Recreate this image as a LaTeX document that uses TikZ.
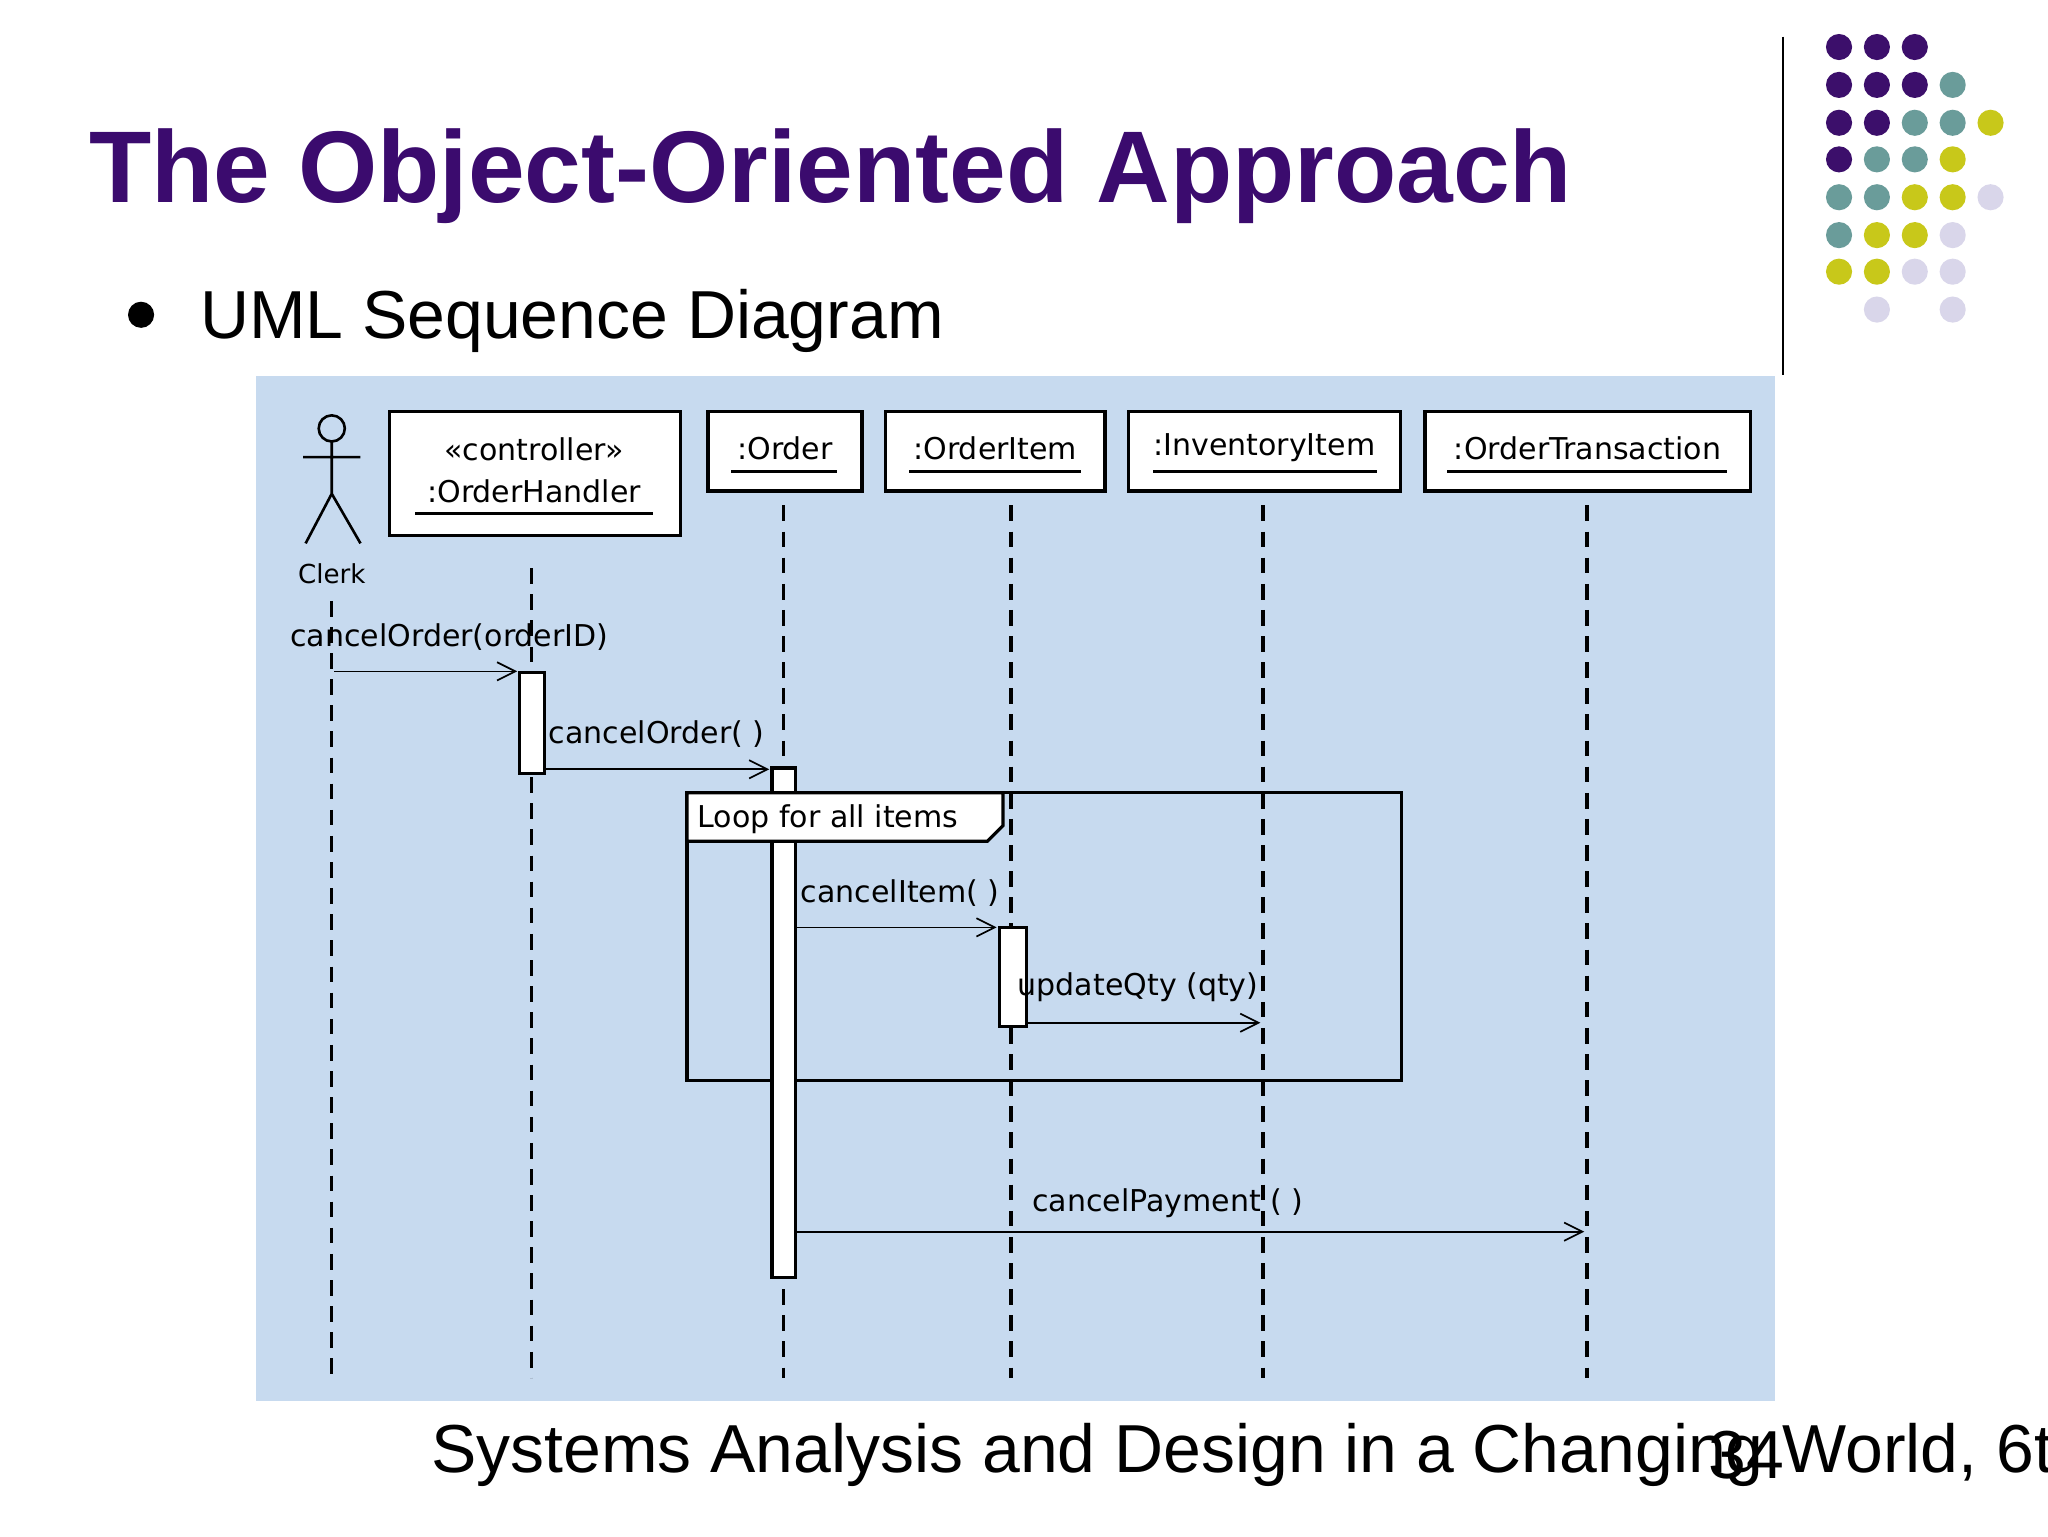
\documentclass[tikz,border=0pt]{standalone}
\usepackage{fontspec}
\setmainfont{Liberation Sans}
\newfontfamily\dia{DejaVu Sans}
\usetikzlibrary{arrows.meta}
\definecolor{ttl}{HTML}{3B0B6E}
\definecolor{bgb}{HTML}{C7DAEF}
\definecolor{dP}{HTML}{3C0F6B}
\definecolor{dT}{HTML}{6A9C9A}
\definecolor{dY}{HTML}{C8C81A}
\definecolor{dL}{HTML}{D9D6EA}
\tikzset{
 obj/.style={draw,line width=2.5pt,fill=white},
 life/.style={line width=2.5pt,dash pattern=on 12pt off 8pt},
 act/.style={draw,line width=2.5pt,fill=white},
 msg/.style={line width=1.3pt,-{Straight Barb[length=14pt,width=14pt,line width=1.3pt]}},
 lbl/.style={font=\dia\fontsize{23}{26}\selectfont,inner sep=0pt},
 dot/.style={circle,inner sep=0pt,minimum size=20pt}
}
\begin{document}
\begin{tikzpicture}[x=1pt,y=-1pt]
\useasboundingbox (0,0) rectangle (1568,1176);
\fill[white] (0,0) rectangle (1568,1176);
% title
\node[anchor=west,text=ttl,font=\bfseries\fontsize{78}{86}\selectfont,inner sep=0pt] (title) at (68,135) {The Object-Oriented Approach};
\node[circle,fill=black,inner sep=0pt,minimum size=20pt] (bul) at (108,241) {};
\node[anchor=west,font=\fontsize{52}{58}\selectfont,inner sep=0pt] (sub) at (153,246) {UML Sequence Diagram};
\draw[line width=1.5pt] (1365,28) -- (1365,287);
% dots
\foreach \x/\y/\c in {1408/36/dP,1437/36/dP,1466/36/dP,
 1408/65/dP,1437/65/dP,1466/65/dP,1495/65/dT,
 1408/94/dP,1437/94/dP,1466/94/dT,1495/94/dT,1524/94/dY,
 1408/122/dP,1437/122/dT,1466/122/dT,1495/122/dY,
 1408/151/dT,1437/151/dT,1466/151/dY,1495/151/dY,1524/151/dL,
 1408/180/dT,1437/180/dY,1466/180/dY,1495/180/dL,
 1408/208/dY,1437/208/dY,1466/208/dL,1495/208/dL,
 1437/237/dL,1495/237/dL}
 \node[dot,fill=\c] at (\x,\y) {};
% diagram background
\fill[bgb] (196,288) rectangle (1359,1073);
% actor
\draw[line width=2pt] (254,328) circle (10);
\draw[line width=2pt] (254,338) -- (254,378) (232,350) -- (276,350) (234,416) -- (254,378) -- (276,416);
\node[lbl,font=\dia\fontsize{20}{22}\selectfont] (clerk) at (254,439) {Clerk};
% objects
\draw[obj] (298,315) rectangle (521,410);
\node[lbl] (oh1) at (409,344) {«controller»};
\node[lbl] (oh2) at (409,376) {:OrderHandler};
\draw[line width=2.5pt] (318,393) -- (500,393);
\foreach \a/\b/\t/\n in {542/660/{:Order}/ord,678/846/{:OrderItem}/oi,864/1072/{:InventoryItem}/ii,1091/1340/{:OrderTransaction}/ot}{
 \draw[obj] (\a,315) rectangle (\b,376);
 \node[lbl] (\n) at ({(\a+\b)/2},343) {\t};
}
\draw[line width=2.5pt] (560,361)--(641,361) (696,361)--(828,361) (883,361)--(1054,361) (1108,361)--(1322,361);
% lifelines
\draw[life] (254,460) -- (254,1055);
\draw[life] (407,435) -- (407,1055);
\foreach \x in {600,774,967,1215} \draw[life] (\x,387) -- (\x,1055);
% loop frame
\draw[line width=2.5pt] (526,607) rectangle (1073,827);
% activations
\draw[act] (398,515) rectangle (417,592);
\draw[act] (591,588) rectangle (609,978);
\draw[act] (765,710) rectangle (786,786);
% loop tab
\draw[line width=2.5pt,fill=white] (526,607) -- (768,607) -- (768,632) -- (756,644) -- (526,644) -- cycle;
\node[lbl,anchor=west] (loop) at (534,627) {Loop for all items};
% messages
\coordinate (m1a) at (256,514); \coordinate (m1b) at (396,514);
\draw[msg] (m1a) -- (m1b);
\node[lbl,anchor=west] (l1) at (222,488) {cancelOrder(orderID)};
\coordinate (m2a) at (417,589); \coordinate (m2b) at (589,589);
\draw[msg] (m2a) -- (m2b);
\node[lbl,anchor=west] (l2) at (420,562) {cancelOrder( )};
\coordinate (m3a) at (609,710); \coordinate (m3b) at (763,710);
\draw[msg] (m3a) -- (m3b);
\node[lbl,anchor=west] (l3) at (613,684) {cancelItem( )};
\coordinate (m4a) at (786,783); \coordinate (m4b) at (965,783);
\draw[msg] (m4a) -- (m4b);
\node[lbl,anchor=west] (l4) at (779,756) {updateQty (qty)};
\coordinate (m5a) at (609,943); \coordinate (m5b) at (1213,943);
\draw[msg] (m5a) -- (m5b);
\node[lbl,anchor=west] (l5) at (790,921) {cancelPayment ( )};
% footer
\node[anchor=west,font=\fontsize{52}{60}\selectfont,inner sep=0pt] (foot) at (330,1114) {Systems Analysis and Design in a Changing World, 6th};
\node[anchor=west,font=\fontsize{52}{60}\selectfont,inner sep=0pt] (pg) at (1308,1114) {34};
\end{tikzpicture}
\end{document}
